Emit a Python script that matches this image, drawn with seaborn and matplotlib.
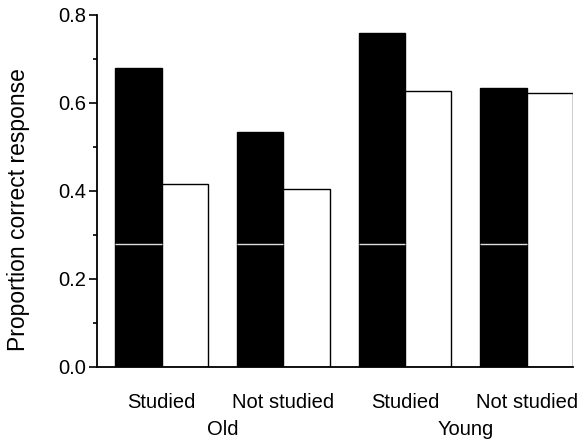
import numpy as np
import pandas as pd
import seaborn as sns
import matplotlib.pyplot as plt
from matplotlib import transforms

# data
conditions = ["old_studied", "old_not", "young_studied", "young_not"]
tick_labels = ["Studied", "Not studied", "Studied", "Not studied"]
age_groups = ["Old", "Young"]
filled_values = [0.68, 0.535, 0.76, 0.635]
open_values = [0.415, 0.405, 0.627, 0.623]
series_names = ["filled", "open"]
ref_level = 0.28

df = pd.DataFrame(
    {
        "condition": conditions * 2,
        "series": [series_names[0]] * 4 + [series_names[1]] * 4,
        "value": filled_values + open_values,
    }
)

sns.set_style("ticks", {"text.color": "black", "axes.labelcolor": "black",
                        "xtick.color": "black", "ytick.color": "black",
                        "axes.edgecolor": "black"})
plt.rcParams["font.family"] = ["Liberation Sans", "DejaVu Sans"]

fig = plt.figure(figsize=(5.81, 4.42), dpi=100)
ax = fig.add_axes([97 / 581, 1 - 367 / 442, (573 - 97) / 581, (367 - 15) / 442])

sns.barplot(
    data=df,
    x="condition",
    y="value",
    hue="series",
    order=conditions,
    hue_order=series_names,
    palette=["black", "white"],
    edgecolor="black",
    linewidth=1.0,
    width=0.76,
    saturation=1,
    legend=False,
    ax=ax,
)

# thin light line crossing the dark bars
for bar in ax.containers[0]:
    x0 = bar.get_x()
    ax.hlines(ref_level, x0, x0 + bar.get_width(), color="#dcdcdc", lw=1, zorder=3)

ax.set_xlim(-0.53, 3.38)
ax.set_ylim(0, 0.8)
ax.set_yticks(np.arange(0, 0.81, 0.2))
ax.set_yticklabels([f"{v:.1f}" for v in np.arange(0, 0.81, 0.2)])
ax.set_yticks(np.arange(0.1, 0.8, 0.2), minor=True)
ax.tick_params(axis="y", which="major", length=6, width=1.2, pad=2, labelsize=14.5)
ax.tick_params(axis="y", which="minor", length=3, width=1.2)

ax.set_xticks(range(len(conditions)))
ax.set_xticklabels(tick_labels)
ax.tick_params(axis="x", length=0, pad=19, labelsize=14.5)
ax.set_xlabel("")

ax.set_ylabel("Proportion correct response", fontsize=16.5)
ax.yaxis.set_label_coords(-0.14, 0.446)

for side in ["top", "right"]:
    ax.spines[side].set_visible(False)
for side in ["left", "bottom"]:
    ax.spines[side].set_linewidth(1.3)
    ax.spines[side].set_color("black")

trans = transforms.blended_transform_factory(ax.transData, ax.transAxes)
for i, name in enumerate(age_groups):
    ax.text(2 * i + 0.5, -0.15, name, transform=trans, ha="center", va="top",
            fontsize=14.5)

fig.savefig("out.png", dpi=100)
